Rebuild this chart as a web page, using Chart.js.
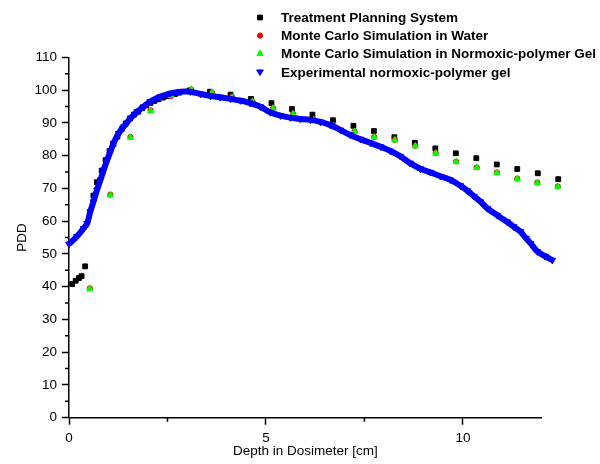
<!DOCTYPE html>
<html>
<head>
<meta charset="utf-8">
<script src="https://cdn.jsdelivr.net/npm/chart.js@4.4.1/dist/chart.umd.min.js"></script>
<style>
  html, body { margin: 0; padding: 0; background: #fff; }
  #wrap { width: 600px; height: 464px; position: relative; }
</style>
</head>
<body>
<div id="wrap"><canvas id="pddChart"></canvas></div>
<script>
// Depth (cm) and PDD
const tpsDepth = [0.08, 0.17, 0.25, 0.32, 0.41, 0.62, 0.71, 0.83, 0.93, 1.03, 1.13, 1.23, 1.34, 1.44, 1.55, 1.65, 1.76,
  1.86, 1.96, 2.07, 2.17, 2.27, 2.38, 2.48, 2.58, 2.69, 2.79, 3.06, 3.58, 4.10, 4.62, 5.14, 5.66, 6.18, 6.70, 7.22,
  7.74, 8.26, 8.78, 9.30, 9.82, 10.34, 10.86, 11.38, 11.90, 12.42];
const tpsPdd = [40.8, 41.8, 42.6, 43.2, 46.2, 67.8, 71.9, 75.4, 78.6, 81.4, 83.5, 85.8, 88.1, 89.8, 91.3, 92.5, 93.4,
  94.5, 95.3, 96.1, 96.7, 97.2, 97.7, 98.1, 98.5, 98.8, 99.2, 99.9, 99.5, 98.6, 97.3, 96.0, 94.2, 92.5, 90.8, 89.1,
  87.5, 85.6, 83.9, 82.2, 80.7, 79.2, 77.3, 75.9, 74.6, 72.8];

const mcDepth = [0.53, 1.05, 1.56, 2.07, 2.59, 3.10, 3.63, 4.14, 4.66, 5.18, 5.69, 6.21, 6.72, 7.25, 7.75, 8.27, 8.79,
  9.31, 9.83, 10.35, 10.86, 11.38, 11.89, 12.41];
const mcWaterPdd = [39.5, 68.1, 85.7, 93.8, 98.2, 100.2, 99.3, 97.9, 96.5, 94.5, 92.8, 91.0, 89.1, 87.4, 85.7, 84.8,
  83.0, 80.8, 78.2, 76.4, 74.9, 73.0, 71.8, 70.6];
const mcGelPdd = [39.3, 67.9, 85.5, 93.6, 98.3, 100.2, 99.2, 97.8, 96.4, 94.4, 92.7, 90.9, 89.0, 87.3, 85.6, 84.7,
  82.9, 80.7, 78.1, 76.3, 74.8, 72.9, 71.7, 70.5];

const expDepth = [0.0, 0.20, 0.37, 0.46, 0.54, 0.62, 0.71, 0.80, 0.88, 0.97, 1.05, 1.13, 1.26, 1.39, 1.56, 1.73, 1.89,
  2.06, 2.32, 2.57, 2.83, 3.08, 3.34, 3.59, 3.84, 4.10, 4.35, 4.60, 4.86, 5.11, 5.37, 5.62, 5.87, 6.13, 6.38, 6.64,
  6.89, 7.14, 7.40, 7.65, 7.91, 8.16, 8.41, 8.66, 8.92, 9.17, 9.43, 9.68, 9.94, 10.11, 10.28, 10.45, 10.62, 10.87,
  11.12, 11.29, 11.46, 11.60, 11.72, 11.89, 12.08, 12.27];
const expPdd = [53.0, 55.3, 57.8, 59.3, 62.9, 65.9, 69.5, 72.6, 75.6, 78.7, 81.2, 83.8, 86.8, 88.8, 91.4, 93.4, 94.9,
  96.5, 98.0, 99.0, 99.5, 99.5, 98.8, 98.2, 97.8, 97.3, 96.8, 96.0, 94.9, 93.2, 92.2, 91.6, 91.2, 90.9, 90.3, 89.3,
  87.8, 86.3, 85.0, 83.9, 82.7, 81.4, 79.8, 77.7, 76.0, 74.9, 73.7, 72.6, 70.8, 69.3, 67.6, 65.9, 63.9, 61.8,
  59.8, 58.3, 56.8, 54.8, 53.2, 50.7, 49.3, 48.1];

const seriesNames = ["Treatment Planning System", "Monte Carlo Simulation in Water",
  "Monte Carlo Simulation in Normoxic-polymer Gel", "Experimental normoxic-polymer gel"];

const xMajorTicks = [0, 5, 10];
const xMinorTicks = [2.5, 7.5];
const yMajorTicks = [0, 10, 20, 30, 40, 50, 60, 70, 80, 90, 100, 110];
const yMinorTicks = [5, 15, 25, 35, 45, 55, 65, 75, 85, 95, 105];

const FONT = '"Liberation Sans", Arial, Helvetica, sans-serif';
Chart.defaults.font.family = FONT;
Chart.defaults.color = '#000';

// points are handed over last-to-first so Chart.js does not drop the ones past x = 12
const toPoints = (xs, ys) => xs.map((x, i) => ({ x: x, y: ys[i] })).reverse();

// short minor ticks, Origin style
const minorTicks = {
  id: 'minorTicks',
  afterDraw(chart) {
    const ctx = chart.ctx, xs = chart.scales.x, ys = chart.scales.y;
    ctx.save();
    ctx.strokeStyle = '#000';
    ctx.lineWidth = 1.5;
    ctx.beginPath();
    xMinorTicks.forEach(v => {
      const px = xs.getPixelForValue(v);
      ctx.moveTo(px, ys.bottom);
      ctx.lineTo(px, ys.bottom + 4);
    });
    yMinorTicks.forEach(v => {
      const py = ys.getPixelForValue(v);
      ctx.moveTo(xs.left, py);
      ctx.lineTo(xs.left - 4, py);
    });
    ctx.stroke();
    ctx.restore();
  }
};

// markers past the end of the x axis are skipped by Chart.js, draw them anyway
const overflowPoints = {
  id: 'overflowPoints',
  afterDatasetsDraw(chart) {
    const area = chart.chartArea;
    const page = { left: 0, top: 0, right: chart.width, bottom: chart.height };
    chart.getSortedVisibleDatasetMetas().slice().reverse().forEach(meta => {
      meta.data.forEach(el => {
        if (el.x > area.right) el.draw(chart.ctx, page);
      });
    });
  }
};

// legend stacked in one column at the top right
const columnLegend = {
  id: 'columnLegend',
  afterDraw(chart) {
    const ctx = chart.ctx;
    ctx.save();
    ctx.font = 'bold 13.5px ' + FONT;
    ctx.textBaseline = 'middle';
    chart.data.datasets.forEach((ds, i) => {
      const y = 17.5 + i * 18.1;
      ctx.fillStyle = ds.pointBackgroundColor;
      ctx.strokeStyle = ds.pointBorderColor;
      ctx.lineWidth = 1;
      Chart.helpers.drawPoint(ctx, {
        pointStyle: ds.pointStyle, radius: ds.pointRadius,
        rotation: ds.pointRotation || 0, borderWidth: 1
      }, 260, y);
      ctx.fillStyle = '#000';
      ctx.fillText(ds.label, 281, y + 1);
    });
    ctx.restore();
  }
};

new Chart(document.getElementById('pddChart'), {
  type: 'scatter',
  data: {
    datasets: [
      {
        label: seriesNames[0], data: toPoints(tpsDepth, tpsPdd),
        pointStyle: 'rect', pointRadius: 3.4, pointBackgroundColor: '#000', pointBorderColor: '#000',
        pointBorderWidth: 1, showLine: false, clip: false, order: 4
      },
      {
        label: seriesNames[1], data: toPoints(mcDepth, mcWaterPdd),
        pointStyle: 'circle', pointRadius: 2.6, pointBackgroundColor: '#ff0000', pointBorderColor: '#ff0000',
        pointBorderWidth: 1, showLine: false, clip: false, order: 3
      },
      {
        label: seriesNames[2], data: toPoints(mcDepth, mcGelPdd),
        pointStyle: 'triangle', pointRadius: 3.6, pointBackgroundColor: '#00ff00', pointBorderColor: '#00ff00',
        pointBorderWidth: 1, showLine: false, clip: false, order: 2
      },
      {
        label: seriesNames[3], data: toPoints(expDepth, expPdd),
        pointStyle: 'triangle', pointRotation: 180, pointRadius: 3.8,
        pointBackgroundColor: '#0000ff', pointBorderColor: '#0000ff', pointBorderWidth: 1,
        showLine: true, borderColor: '#0000ff', borderWidth: 6, tension: 0.3, clip: false, order: 1
      }
    ]
  },
  options: {
    responsive: true,
    maintainAspectRatio: false,
    animation: false,
    events: [],
    layout: { padding: { top: 57.3, right: 58.3, left: 0, bottom: 0 } },
    plugins: { legend: { display: false }, tooltip: { enabled: false } },
    scales: {
      x: {
        type: 'linear', min: 0, max: 12,
        afterBuildTicks: s => { s.ticks = xMajorTicks.map(v => ({ value: v })); },
        afterFit: s => { s.height = 46.3; },
        ticks: { font: { size: 13.5 }, padding: 5, maxRotation: 0, includeBounds: false },
        grid: { drawOnChartArea: false, drawTicks: true, tickLength: 7, tickColor: '#000', tickWidth: 1.5 },
        border: { display: true, color: '#000', width: 1.5 },
        title: { display: true, text: 'Depth in Dosimeter [cm]', font: { size: 13.5 }, padding: { top: 0, bottom: 5 } }
      },
      y: {
        type: 'linear', min: 0, max: 110,
        afterBuildTicks: s => { s.ticks = yMajorTicks.map(v => ({ value: v })); },
        afterFit: s => { s.width = 69; },
        ticks: { font: { size: 13.5 }, padding: 5 },
        grid: { drawOnChartArea: false, drawTicks: true, tickLength: 7, tickColor: '#000', tickWidth: 1.5 },
        border: { display: true, color: '#000', width: 1.5 },
        title: { display: true, text: 'PDD', font: { size: 13.5 }, padding: { top: 14.5, bottom: 0 } }
      }
    }
  },
  plugins: [minorTicks, overflowPoints, columnLegend]
});
</script>
</body>
</html>
